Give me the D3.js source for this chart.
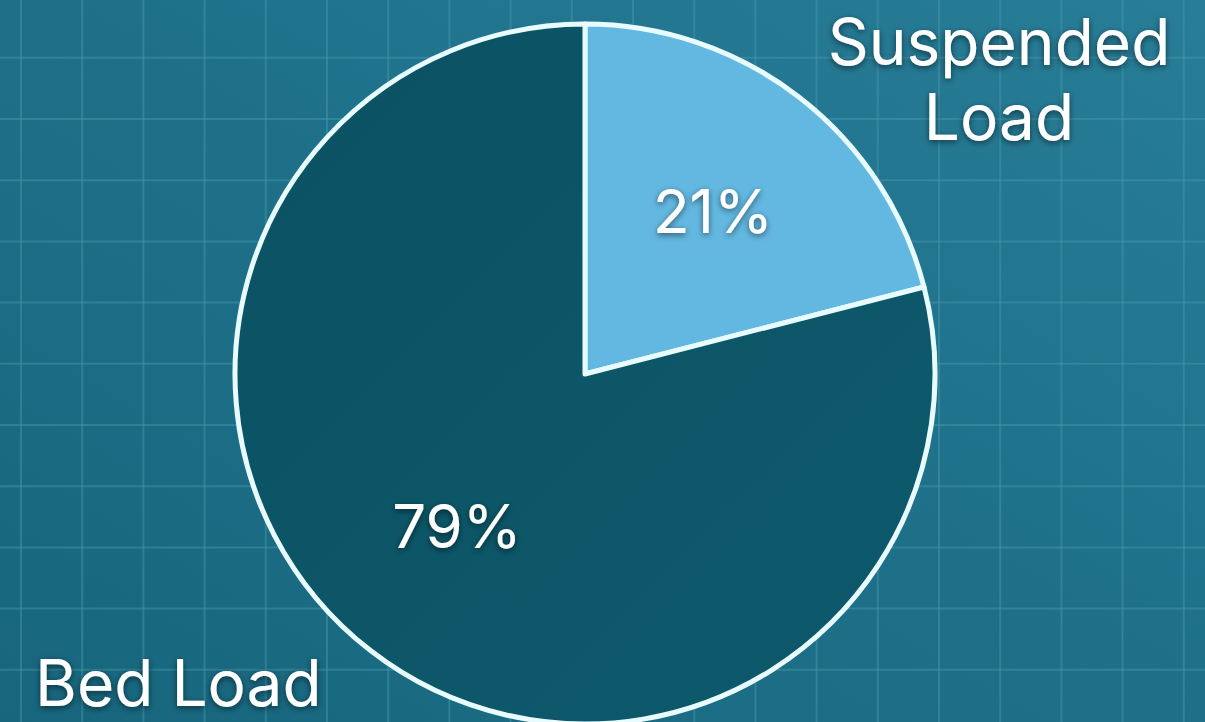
<!DOCTYPE html>
<html>
<head>
<meta charset="utf-8">
<script src="https://cdn.jsdelivr.net/npm/d3@7"></script>
<style>
  html, body { margin: 0; padding: 0; overflow: hidden; background: #1f7189; }
  svg { display: block; }
  text { font-family: Inter, "Open Sans", "Liberation Sans", sans-serif; fill: #ffffff; }
</style>
</head>
<body>
<svg id="chart" width="1205" height="722"></svg>
<script>
const categories = ["Suspended Load", "Bed Load"];
const values = [21, 79];
const valueLabels = ["21%", "79%"];
const sliceColors = ["#63b8e1", "#0b5567"];

const W = 1205, H = 722;
const svg = d3.select("#chart");
const defs = svg.append("defs");

const bg = defs.append("linearGradient").attr("id", "bg")
  .attr("x1", "0").attr("y1", "1").attr("x2", "1").attr("y2", "0");
bg.append("stop").attr("offset", "0").attr("stop-color", "#17667e");
bg.append("stop").attr("offset", "0.5").attr("stop-color", "#1e7089");
bg.append("stop").attr("offset", "1").attr("stop-color", "#287d97");

const dk = defs.append("linearGradient").attr("id", "dk")
  .attr("x1", "0").attr("y1", "0").attr("x2", "1").attr("y2", "1");
dk.append("stop").attr("offset", "0").attr("stop-color", "#0a5163");
dk.append("stop").attr("offset", "0.5").attr("stop-color", "#0c5668");
dk.append("stop").attr("offset", "1").attr("stop-color", "#0d596b");

const sh = defs.append("filter").attr("id", "shadow")
  .attr("x", "-20%").attr("y", "-20%").attr("width", "140%").attr("height", "140%");
sh.append("feDropShadow").attr("dx", 0).attr("dy", 2).attr("stdDeviation", 3)
  .attr("flood-color", "#000").attr("flood-opacity", 0.55);

svg.append("rect").attr("width", W).attr("height", H).attr("fill", "url(#bg)");

// grid
const step = 61.2;
const gx = d3.range(21, W, step);
const gy = d3.range(-3.4, H, step);
const grid = svg.append("g").attr("stroke", "#4a98b0").attr("stroke-opacity", 0.45).attr("stroke-width", 2);
grid.selectAll("line.v").data(gx).join("line").attr("class", "v")
  .attr("x1", d => d).attr("x2", d => d).attr("y1", 0).attr("y2", H);
grid.selectAll("line.h").data(gy).join("line").attr("class", "h")
  .attr("y1", d => d).attr("y2", d => d).attr("x1", 0).attr("x2", W);

// pie
const cx = 585, cy = 374, R = 350;
const pie = d3.pie().sort(null).value(d => d)(values);
const arc = d3.arc().innerRadius(0).outerRadius(R);
const g = svg.append("g").attr("transform", `translate(${cx},${cy})`);
g.selectAll("path").data(pie).join("path")
  .attr("d", arc)
  .attr("fill", (d, i) => i === 1 ? "url(#dk)" : sliceColors[i])
  .attr("stroke", "#e8fcff").attr("stroke-width", 5).attr("stroke-linejoin", "round");

// value labels
const labelPos = [[128, -141], [-128, 174]];
g.selectAll("text.val").data(pie).join("text").attr("class", "val")
  .attr("x", (d, i) => labelPos[i][0]).attr("y", (d, i) => labelPos[i][1])
  .attr("text-anchor", "middle")
  .attr("font-size", 60)
  .attr("filter", "url(#shadow)")
  .text((d, i) => valueLabels[i]);

// category labels
const cat = svg.append("g").attr("filter", "url(#shadow)").attr("font-size", 64);
const t1 = cat.append("text").attr("x", 999).attr("text-anchor", "middle");
t1.append("tspan").attr("x", 999).attr("y", 65).text(categories[0].split(" ")[0]);
t1.append("tspan").attr("x", 999).attr("y", 140).text(categories[0].split(" ")[1]);
cat.append("text").attr("x", 35).attr("y", 706).text(categories[1]);
</script>
</body>
</html>
